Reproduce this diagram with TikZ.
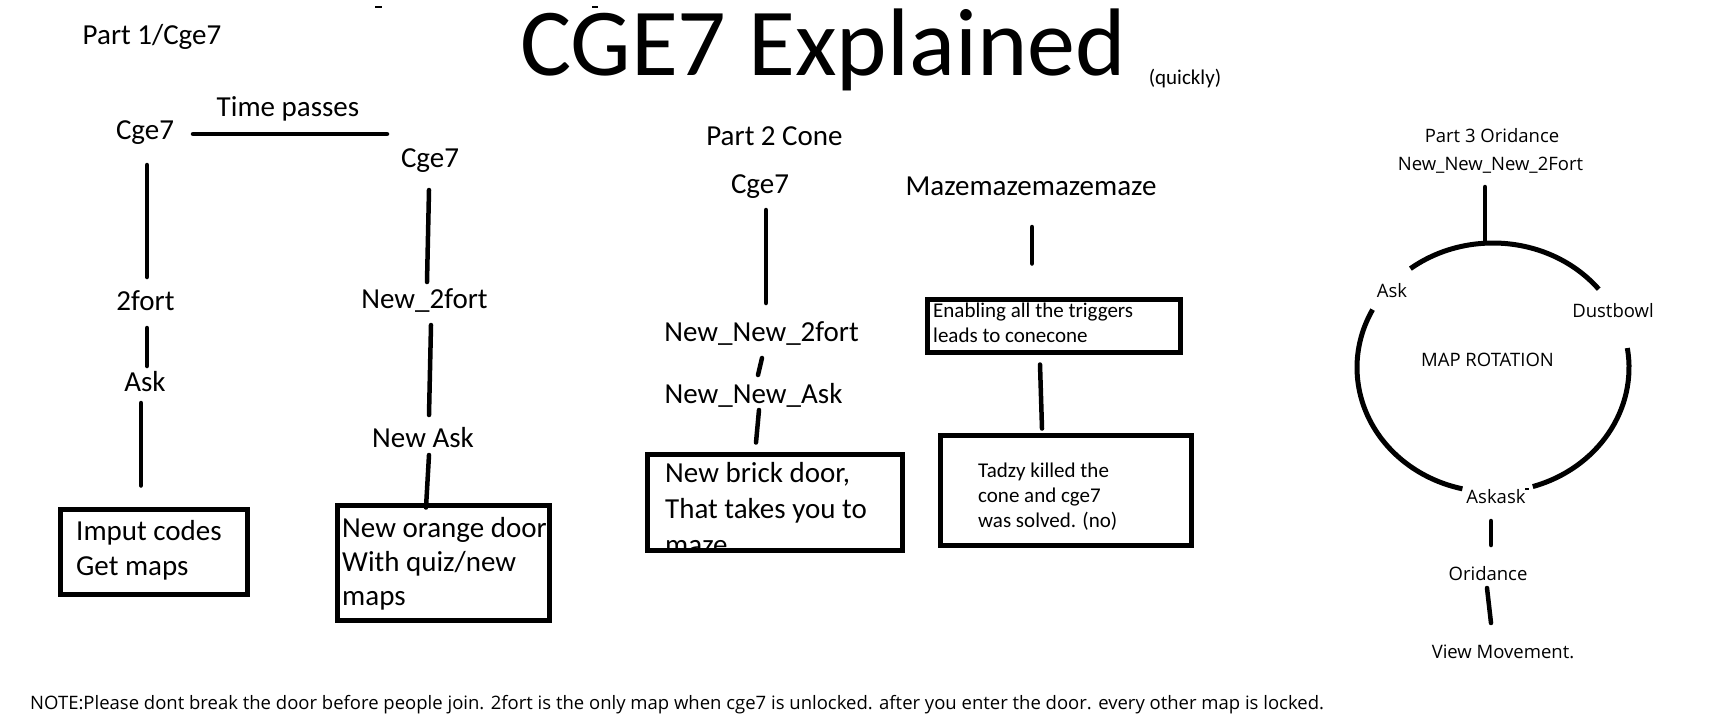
\documentclass[tikz,border=0pt]{standalone}
\usepackage{fontspec}
\setmainfont{Carlito}
\newfontfamily\ringfont{Open Sans}

\tikzset{
  lbl/.style={inner sep=0, anchor=base, font=\fontsize{29}{35}\selectfont},
  lblsmall/.style={inner sep=0, anchor=base west, font=\fontsize{21}{25}\selectfont},
  lblring/.style={inner sep=0, anchor=base, font=\ringfont\fontsize{18.5}{22}\selectfont},
  link/.style={line width=4.5, line cap=round},
  boxed/.style={draw, line width=5, inner sep=0},
  ringline/.style={line width=5}
}

\begin{document}
\begin{tikzpicture}[x=1pt, y=-1pt]

  \fill[white] (0,0) rectangle (1732,721);
  \useasboundingbox (0,0) rectangle (1732,721);

  % stray marks along the top
  \draw[line width=2] (375,7) -- (382,7);
  \draw[line width=2] (592,7) -- (598,7);

  \node[inner sep=0, anchor=base, font=\fontsize{96}{100}\selectfont] (title) at (823,75) {CGE7 Explained};
  \node[inner sep=0, anchor=base, font=\fontsize{21}{25}\selectfont] (quick) at (1185,84) {(quickly)};

  % part 1
  \begin{scope}
    \node[lbl] (part1) at (152,44) {Part 1/Cge7};
    \node[lbl] (time) at (288,116) {Time passes};
    \node[lbl] (cgeA) at (145,139) {Cge7};
    \node[lbl] (cgeB) at (430,167) {Cge7};
    \node[lbl] (fortA) at (145.5,310) {2fort};
    \node[lbl] (nfortA) at (424.5,308) {New\_2fort};
    \node[lbl] (askA) at (145,391) {Ask};
    \node[lbl] (naskA) at (423,447) {New Ask};

    \node[boxed, minimum width=187, minimum height=85] (codesbox) at (154,552) {};
    \foreach \txt [count=\i] in {Imput codes, Get maps}
      \node[lbl, anchor=base west] (codes\i) at (76,{540+35*(\i-1)}) {\txt};

    \node[boxed, minimum width=212, minimum height=115] (doorbox) at (443.5,563) {};
    \foreach \txt [count=\i] in {New orange door, With quiz/new, maps}
      \node[lbl, anchor=base west] (door\i) at (342,{537+34*(\i-1)}) {\txt};

    \draw[link] ([shift={(48,-5)}]cgeA.base) -- ([shift={(-43,-33)}]cgeB.base);
    \draw[link] ([shift={(2,26)}]cgeA.base) -- ([shift={(1.5,-33)}]fortA.base);
    \draw[link] ([shift={(1.5,18)}]fortA.base) -- ([shift={(2,-25)}]askA.base);
    \draw[link] ([shift={(-4,12)}]askA.base) -- ([shift={(-13,-21.5)}]codesbox.north);
    \draw[link] ([shift={(-1,23)}]cgeB.base) -- ([shift={(2.5,-26)}]nfortA.base);
    \draw[link] ([shift={(6.5,17)}]nfortA.base) -- ([shift={(6,-32)}]naskA.base);
    \draw[link] ([shift={(6,8)}]naskA.base) -- ([shift={(-17.5,4.5)}]doorbox.north);
  \end{scope}

  % part 2
  \begin{scope}
    \node[lbl] (part2) at (774.5,145) {Part 2 Cone};
    \node[lbl] (cgeC) at (760,193) {Cge7};
    \node[lbl] (nnfort) at (761.5,341) {New\_New\_2fort};
    \node[lbl] (nnask) at (753.5,403) {New\_New\_Ask};
    \node[lbl] (maze) at (1031,195) {Mazemazemazemaze};

    \begin{scope}
      \clip (647,454) rectangle (902,550);
      \foreach \txt [count=\i] in {{New brick door,}, That takes you to, maze}
        \node[lbl, anchor=base west] (brick\i) at (665,{482+36*(\i-1)}) {\txt};
    \end{scope}
    \node[boxed, minimum width=255, minimum height=96] (brickbox) at (775,502.5) {};

    \node[boxed, minimum width=253.5, minimum height=53] (trigbox) at (1054,326) {};
    \foreach \txt [count=\i] in {Enabling all the triggers, leads to conecone}
      \node[lblsmall] (trig\i) at (933,{317+25*(\i-1)}) {\txt};

    \node[boxed, minimum width=251, minimum height=110] (tadbox) at (1066,490.5) {};
    \foreach \txt [count=\i] in {Tadzy killed the, cone and cge7, was solved. (no)}
      \node[lblsmall] (tad\i) at (978,{477+25*(\i-1)}) {\txt};

    \draw[link] ([shift={(6,17)}]cgeC.base) -- ([shift={(4.5,-38)}]nnfort.base);
    \draw[link] ([shift={(0.5,17)}]nnfort.base) -- ([shift={(4.5,-28)}]nnask.base);
    \draw[link] ([shift={(5.5,7)}]nnask.base) -- ([shift={(-19,-9.5)}]brickbox.north);
    \draw[link] ([shift={(1,32)}]maze.base) -- ([shift={(-22,-33.5)}]trigbox.north);
    \draw[link] ([shift={(-14,9.5)}]trigbox.south) -- ([shift={(-24,-4.5)}]tadbox.north);
  \end{scope}

  % part 3
  \begin{scope}
    \coordinate (ring) at (1493,367.5);
    \node[lblring] (part3) at (1492,142) {Part 3 Oridance};
    \node[lblring] (nnnfort) at (1490.5,170) {New\_New\_New\_2Fort};
    \node[lblring] (askB) at (1392,297) {Ask};
    \node[lblring] (dust) at (1613,317) {Dustbowl};
    \node[lblring] (maprot) at (1487.5,366) {MAP ROTATION};
    \node[lblring] (askask) at (1496,503) {Askask};
    \node[lblring] (orid) at (1488,580) {Oridance};
    \node[lblring] (view) at (1503,658) {View Movement.};

    \draw[ringline] ([shift={(-127.4:136 and 124.5)}]ring) arc[start angle=-127.4, end angle=-39, x radius=136, y radius=124.5];
    \draw[ringline] ([shift={(-152.3:136 and 124.5)}]ring) arc[start angle=-152.3, end angle=-257, x radius=136, y radius=124.5];
    \draw[ringline] ([shift={(-9:136 and 124.5)}]ring) arc[start angle=-9, end angle=73, x radius=136, y radius=124.5];
    \draw[line width=1.5] (1525,489) -- (1529,489);

    \draw[link] ([shift={(-5.5,17)}]nnnfort.base) -- ([shift={(-8,-125.5)}]ring);
    \draw[link] ([shift={(-5,18)}]askask.base) -- ([shift={(3,-35)}]orid.base);
    \draw[link] ([shift={(-1,8)}]orid.base) -- ([shift={(-12,-35)}]view.base);
  \end{scope}

  \node[inner sep=0, anchor=base west, font=\ringfont\fontsize{18.5}{22}\selectfont] (note) at (30,709)
    {NOTE:Please dont break the door before people join. 2fort is the only map when cge7 is unlocked. after you enter the door. every other map is locked.};

\end{tikzpicture}
\end{document}
